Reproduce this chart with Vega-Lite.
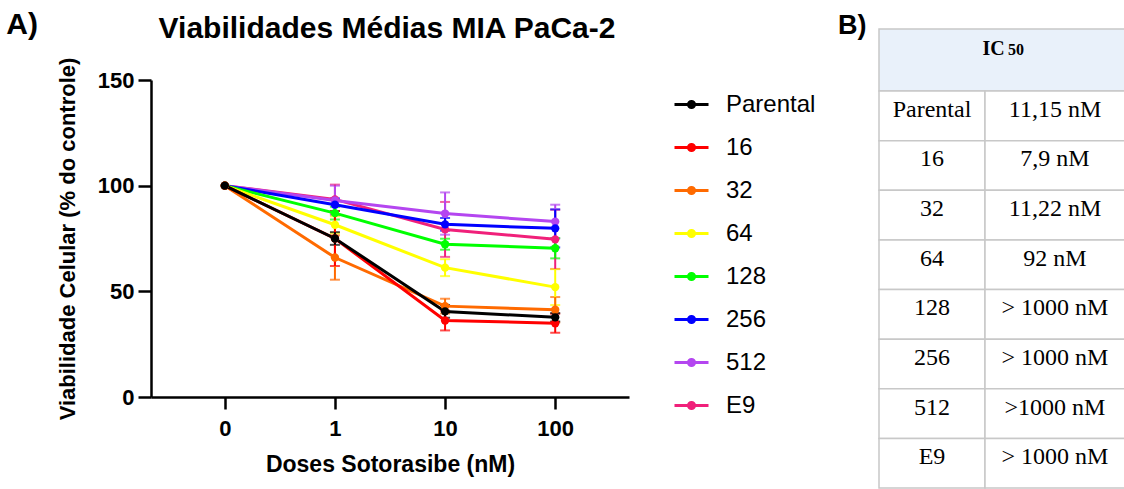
{
  "$schema": "https://vega.github.io/schema/vega-lite/v6.json",
  "background": "white",
  "padding": {"left": 6, "top": 9, "right": 0, "bottom": 0},
  "title": {"text": "A)", "anchor": "start", "frame": "bounds", "offset": -51.5, "dx": -50, "baseline": "alphabetic", "fontSize": 30, "fontWeight": "bold", "font": "Liberation Sans", "color": "black"},
  "config": {"view": {"stroke": null}},
  "datasets": {
    "viab": [
      {"linhagem": "E9", "dose": 0, "viab": 100, "sd": 0},
      {"linhagem": "E9", "dose": 1, "viab": 93.5, "sd": 7},
      {"linhagem": "E9", "dose": 10, "viab": 79.3, "sd": 13},
      {"linhagem": "E9", "dose": 100, "viab": 74.6, "sd": 14},
      {"linhagem": "512", "dose": 0, "viab": 100, "sd": 0},
      {"linhagem": "512", "dose": 1, "viab": 93, "sd": 7},
      {"linhagem": "512", "dose": 10, "viab": 86.8, "sd": 10},
      {"linhagem": "512", "dose": 100, "viab": 83, "sd": 8},
      {"linhagem": "256", "dose": 0, "viab": 100, "sd": 0},
      {"linhagem": "256", "dose": 1, "viab": 91, "sd": 3},
      {"linhagem": "256", "dose": 10, "viab": 81.7, "sd": 3},
      {"linhagem": "256", "dose": 100, "viab": 79.8, "sd": 9},
      {"linhagem": "128", "dose": 0, "viab": 100, "sd": 0},
      {"linhagem": "128", "dose": 1, "viab": 87, "sd": 3},
      {"linhagem": "128", "dose": 10, "viab": 72.3, "sd": 2.6},
      {"linhagem": "128", "dose": 100, "viab": 70.4, "sd": 4.8},
      {"linhagem": "64", "dose": 0, "viab": 100, "sd": 0},
      {"linhagem": "64", "dose": 1, "viab": 81.5, "sd": 4},
      {"linhagem": "64", "dose": 10, "viab": 61.2, "sd": 4},
      {"linhagem": "64", "dose": 100, "viab": 52, "sd": 8.5},
      {"linhagem": "32", "dose": 0, "viab": 100, "sd": 0},
      {"linhagem": "32", "dose": 1, "viab": 66, "sd": 10.5},
      {"linhagem": "32", "dose": 10, "viab": 43, "sd": 3.5},
      {"linhagem": "32", "dose": 100, "viab": 41.3, "sd": 6},
      {"linhagem": "16", "dose": 0, "viab": 100, "sd": 0},
      {"linhagem": "16", "dose": 1, "viab": 75, "sd": 13},
      {"linhagem": "16", "dose": 10, "viab": 36.2, "sd": 4.7},
      {"linhagem": "16", "dose": 100, "viab": 34.9, "sd": 4.5},
      {"linhagem": "Parental", "dose": 0, "viab": 100, "sd": 0},
      {"linhagem": "Parental", "dose": 1, "viab": 75, "sd": 3},
      {"linhagem": "Parental", "dose": 10, "viab": 40.5, "sd": 3},
      {"linhagem": "Parental", "dose": 100, "viab": 37.7, "sd": 2}
    ],
    "tabela": [
      {"linha": "Parental", "ic50": "11,15 nM"},
      {"linha": "16", "ic50": "7,9 nM"},
      {"linha": "32", "ic50": "11,22 nM"},
      {"linha": "64", "ic50": "92 nM"},
      {"linha": "128", "ic50": "> 1000 nM"},
      {"linha": "256", "ic50": "> 1000 nM"},
      {"linha": "512", "ic50": ">1000 nM"},
      {"linha": "E9", "ic50": "> 1000 nM"}
    ],
    "cabecalho": [{"h": "IC", "s": "50"}]
  },
  "hconcat": [
    {
      "width": 478,
      "height": 368,
      "title": {"text": "Viabilidades Médias MIA PaCa-2", "anchor": "middle", "frame": "group", "offset": -39, "dx": -3, "baseline": "alphabetic", "fontSize": 30, "fontWeight": "bold", "font": "Liberation Sans", "color": "black"},
      "data": {"name": "viab"},
      "encoding": {
        "x": {"field": "dose", "type": "ordinal", "title": "Doses Sotorasibe (nM)",
              "scale": {"type": "point", "padding": 0.67},
              "axis": {"labelAngle": 0, "grid": false, "domainColor": "black", "domainWidth": 2.5, "tickColor": "black", "tickWidth": 2.5, "tickSize": 12,
                       "labelFont": "Liberation Sans", "labelFontSize": 22, "labelFontWeight": "bold", "labelColor": "black", "labelPadding": 9,
                       "titleFont": "Liberation Sans", "titleFontSize": 23, "titleFontWeight": "bold", "titleColor": "black", "titlePadding": 14}},
        "y": {"field": "viab", "type": "quantitative", "title": "Viabilidade Celular (% do controle)",
              "scale": {"domain": [0, 150], "range": [368, 51], "nice": false},
              "axis": {"values": [0, 50, 100, 150], "grid": false, "domainColor": "black", "domainWidth": 2.5, "tickColor": "black", "tickWidth": 2.5, "tickSize": 13,
                       "labelFont": "Liberation Sans", "labelFontSize": 22, "labelFontWeight": "bold", "labelColor": "black", "labelPadding": 4,
                       "titleFont": "Liberation Sans", "titleFontSize": 22, "titleFontWeight": "bold", "titleColor": "black", "titlePadding": 18}},
        "color": {"field": "linhagem", "type": "nominal",
                  "scale": {"domain": ["Parental", "16", "32", "64", "128", "256", "512", "E9"],
                            "range": ["#000000", "#ff0000", "#ff6a00", "#ffff00", "#00ff00", "#0000ff", "#b446f0", "#f0207a"]},
                  "legend": {"title": null, "orient": "none", "legendX": 522, "legendY": 57, "padding": 0,
                             "symbolType": "M-1,0H1M-0.18,0A0.18,0.18 0 1,0 0.18,0A0.18,0.18 0 1,0 -0.18,0Z",
                             "symbolSize": 1156, "symbolStrokeWidth": 3, "labelFont": "Liberation Sans", "labelFontSize": 24, "labelColor": "black",
                             "labelOffset": 16, "rowPadding": 12,
                             "encode": {"symbols": {"update": {"stroke": {"scale": "color", "field": "value"}, "fill": {"scale": "color", "field": "value"}, "opacity": {"value": 1}}}}}}
      },
      "layer": [
        {"transform": [{"filter": "datum.sd > 0"}],
         "mark": {"type": "errorbar", "ticks": {"size": 10, "thickness": 2}, "rule": {"strokeWidth": 2}},
         "encoding": {"yError": {"field": "sd"}}},
        {"mark": {"type": "line", "strokeWidth": 3}},
        {"mark": {"type": "point", "filled": true, "size": 70, "opacity": 1}}
      ]
    },
    {
      "vconcat": [
        {
          "width": 246,
          "height": 62,
          "title": {"text": "B)", "anchor": "start", "frame": "group", "dx": -41, "offset": -33, "baseline": "alphabetic", "fontSize": 27, "fontWeight": "bold", "font": "Liberation Sans", "color": "black"},
          "data": {"name": "cabecalho"},
          "layer": [
            {"mark": {"type": "rect", "fill": "#e9f1fa", "stroke": "#c8c8c8", "strokeWidth": 1.5}, "encoding": {}},
            {"mark": {"type": "text", "font": "Liberation Serif", "fontSize": 20, "fontWeight": "bold", "dx": -8.5, "dy": -5, "baseline": "alphabetic", "color": "black"},
             "encoding": {"text": {"field": "h"}}},
            {"mark": {"type": "text", "font": "Liberation Serif", "fontSize": 16, "fontWeight": "bold", "dx": 14, "dy": -5, "baseline": "alphabetic", "color": "black"},
             "encoding": {"text": {"field": "s"}}}
          ]
        },
        {
          "hconcat": [
            {
              "width": 106,
              "height": 397,
              "data": {"name": "tabela"},
              "encoding": {"y": {"field": "linha", "type": "nominal", "sort": null, "axis": null, "scale": {"paddingInner": 0, "paddingOuter": 0}}},
              "layer": [
                {"mark": {"type": "rect", "fill": "white", "stroke": "#c8c8c8", "strokeWidth": 1.5}},
                {"mark": {"type": "text", "font": "Liberation Serif", "fontSize": 24, "baseline": "alphabetic", "dy": 1, "color": "black"},
                 "encoding": {"text": {"field": "linha"}}}
              ]
            },
            {
              "width": 140,
              "height": 397,
              "data": {"name": "tabela"},
              "encoding": {"y": {"field": "linha", "type": "nominal", "sort": null, "axis": null, "scale": {"paddingInner": 0, "paddingOuter": 0}}},
              "layer": [
                {"mark": {"type": "rect", "fill": "white", "stroke": "#c8c8c8", "strokeWidth": 1.5}},
                {"mark": {"type": "text", "font": "Liberation Serif", "fontSize": 24, "baseline": "alphabetic", "dy": 1, "color": "black"},
                 "encoding": {"text": {"field": "ic50"}}}
              ]
            }
          ],
          "spacing": 0,
          "bounds": "flush"
        }
      ],
      "spacing": 0,
      "bounds": "flush",
      "resolve": {"scale": {"y": "independent"}}
    }
  ],
  "spacing": 250,
  "bounds": "flush",
  "resolve": {"scale": {"x": "independent", "y": "independent", "color": "independent"}}
}
